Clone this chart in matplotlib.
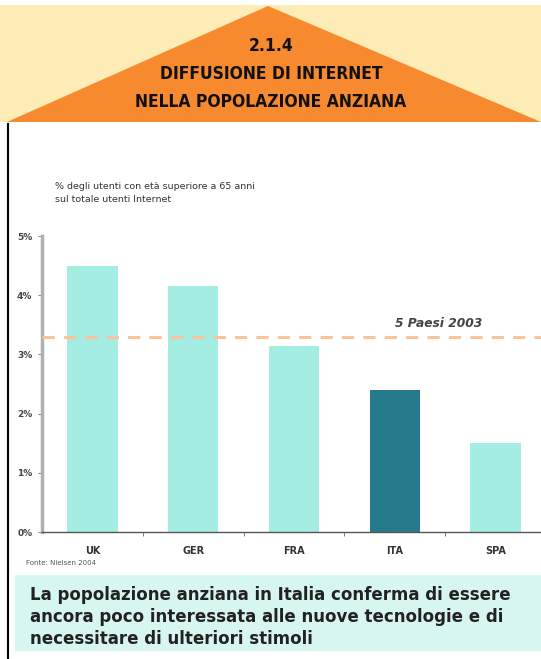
import matplotlib.pyplot as plt
from matplotlib.patches import Polygon, Rectangle
from matplotlib.lines import Line2D

# ================= DATA =================
PAESI = ["UK", "GER", "FRA", "ITA", "SPA"]
QUOTA = [4.5, 4.15, 3.15, 2.4, 1.5]
MEDIA_5_PAESI = 3.3
Y_TICKS = [0, 1, 2, 3, 4, 5]
Y_LABELS = ["0%", "1%", "2%", "3%", "4%", "5%"]

TITOLO = ["2.1.4", "DIFFUSIONE DI INTERNET", "NELLA POPOLAZIONE ANZIANA"]
SOTTOTITOLO = "% degli utenti con età superiore a 65 anni\nsul totale utenti Internet"
FONTE = "Fonte: Nielsen 2004"
NOTA = ("La popolazione anziana in Italia conferma di essere\n"
        "ancora poco interessata alle nuove tecnologie e di\n"
        "necessitare di ulteriori stimoli")
# ========================================

W, H = 541, 659
LIGHT = "#a4ede3"
DARK = "#257b8b"
ORANGE = "#f7892f"
YELLOW = "#feecb6"

fig = plt.figure(figsize=(W / 100, H / 100), dpi=100)

# background layer in pixel coords (y down)
bg = fig.add_axes([0, 0, 1, 1])
bg.set_xlim(0, W)
bg.set_ylim(H, 0)
bg.axis("off")

bg.add_patch(Rectangle((0, 5), W, 117, color=YELLOW, lw=0))
bg.add_patch(Polygon([(7, 122), (268, 6), (W, 122)], closed=True,
                     color=ORANGE, lw=0))
for i, t in enumerate(TITOLO):
    bg.text(271, 46 + i * 28, t, ha="center", va="center", fontsize=12.5,
            fontweight="bold", family="DejaVu Sans", stretch="condensed",
            color="#111")

bg.add_line(Line2D([8, 8], [124, H], color="black", lw=1.5))
bg.add_patch(Rectangle((15, 575), W - 15, 76, color="#d8f6f1", lw=0))
bg.text(30, 617, NOTA, ha="left", va="center", fontsize=12,
        fontweight="bold", color="#222", linespacing=1.3)

bg.text(55, 193, SOTTOTITOLO, ha="left", va="center", fontsize=6.8,
        color="#333", linespacing=1.5)
bg.text(26, 563, FONTE, ha="left", va="center", fontsize=5, color="#555")

# chart
ax = fig.add_axes([42 / W, (H - 532) / H, (W - 42) / W, (532 - 236) / H])
ax.patch.set_alpha(0)
x = range(len(PAESI))
colors = [DARK if p == "ITA" else LIGHT for p in PAESI]
ax.bar(x, QUOTA, width=0.5, color=colors, zorder=2)
ax.axhline(MEDIA_5_PAESI, color="#f9c49a", lw=2.2, ls=(0, (4, 3)), zorder=3)
ax.text(3.43, MEDIA_5_PAESI + 0.23, "5 Paesi 2003", ha="center", va="center",
        fontsize=8.8, style="italic", fontweight="bold", color="#444")

ax.set_xlim(-0.5, 4.45)
ax.set_ylim(0, 5)
ax.set_yticks(Y_TICKS)
ax.set_yticklabels(Y_LABELS, fontsize=6.5, fontweight="bold", color="#444")
ax.set_xticks(list(x))
ax.set_xticklabels(PAESI, fontsize=7, fontweight="bold", color="#333")
ax.set_xticks([i + 0.5 for i in range(len(PAESI) - 1)], minor=True)
ax.tick_params(axis="x", which="major", length=0, pad=10)
ax.tick_params(axis="x", which="minor", length=3, color="#666")
ax.tick_params(axis="y", length=3, color="#888", pad=4)
for s in ["top", "right"]:
    ax.spines[s].set_visible(False)
ax.spines["left"].set_color("#b0b0b0")
ax.spines["left"].set_linewidth(2.5)
ax.spines["bottom"].set_color("#555")
ax.spines["bottom"].set_linewidth(1)

fig.savefig("out.png", dpi=100)
